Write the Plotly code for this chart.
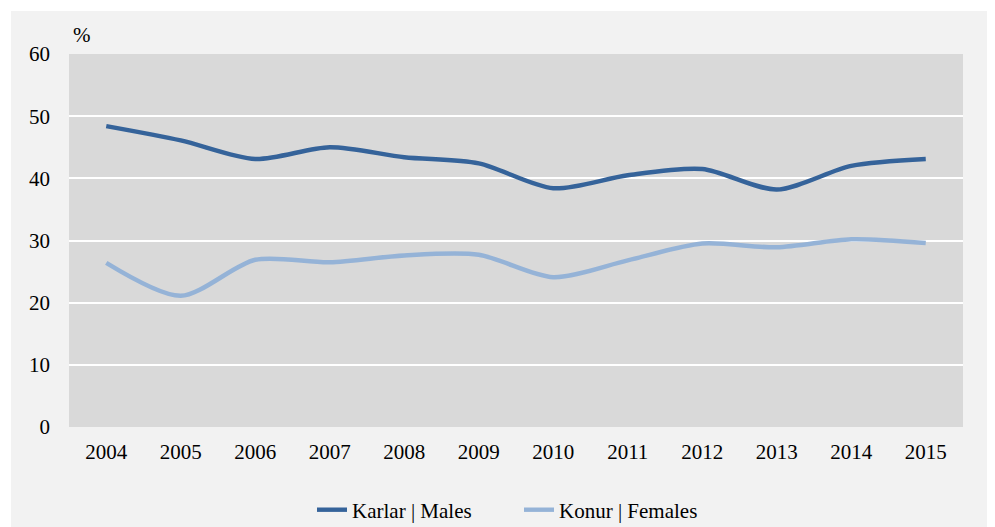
import plotly.graph_objects as go

years = ["2004", "2005", "2006", "2007", "2008", "2009", "2010", "2011", "2012", "2013", "2014", "2015"]
males = [48.4, 46.1, 43.1, 45.0, 43.4, 42.4, 38.4, 40.5, 41.5, 38.2, 42.0, 43.1]
females = [26.4, 21.1, 26.9, 26.5, 27.6, 27.7, 24.1, 26.8, 29.5, 28.9, 30.2, 29.6]
y_ticks = [0, 10, 20, 30, 40, 50, 60]

OFF = 8  # page body margin
W, H = 995 - OFF, 527 - OFF
# plot area in page pixels: x 69..963, y 54..427
L, T = 69 - OFF, 54 - OFF
R = W - (963 - OFF)
B = H - (427 - OFF)
pw, ph = W - L - R, H - T - B

def px_x(p):  # page pixel -> paper x
    return (p - OFF - L) / pw

def px_y(p):  # page pixel -> paper y
    return (H - B - (p - OFF)) / ph

font = dict(family="'Times New Roman', 'Liberation Serif', Times, serif", size=21, color="#000000")

fig = go.Figure()
fig.add_trace(go.Scatter(x=years, y=males, mode="lines", name="Karlar | Males",
                         line=dict(color="#35639a", width=4.5, shape="spline", smoothing=0.8)))
fig.add_trace(go.Scatter(x=years, y=females, mode="lines", name="Konur | Females",
                         line=dict(color="#95b3d7", width=4.5, shape="spline", smoothing=0.8)))

fig.update_layout(
    width=W, height=H,
    margin=dict(l=L, r=R, t=T, b=B, autoexpand=False),
    paper_bgcolor="#ffffff",
    plot_bgcolor="#d9d9d9",
    font=font,
    showlegend=True,
    legend=dict(orientation="h", x=px_x(312), xanchor="left", y=px_y(510), yanchor="middle",
                bgcolor="rgba(0,0,0,0)", font=font, entrywidth=162, tracegroupgap=0),
    shapes=[
        dict(type="rect", xref="paper", yref="paper", x0=px_x(11), x1=px_x(1000),
             y0=px_y(535), y1=px_y(11), fillcolor="#f2f2f2", line=dict(width=0), layer="below"),
        dict(type="rect", xref="paper", yref="paper", x0=0, x1=1, y0=0, y1=1,
             fillcolor="#d9d9d9", line=dict(width=0), layer="below"),
    ],
    annotations=[
        dict(text="%", xref="paper", yref="paper", x=px_x(82), y=px_y(35),
             showarrow=False, xanchor="center", yanchor="middle", font=font),
    ],
)

fig.update_xaxes(type="category", range=[-0.5, len(years) - 0.5], showgrid=False, zeroline=False,
                 showline=False, ticks="", ticklabelstandoff=10, tickfont=font)
fig.update_yaxes(range=[0, 60], tickvals=y_ticks, showgrid=True, gridcolor="#ffffff", gridwidth=2,
                 zeroline=False, showline=False, ticks="", ticklabelstandoff=18, tickfont=font)

fig.write_html("out.html")
